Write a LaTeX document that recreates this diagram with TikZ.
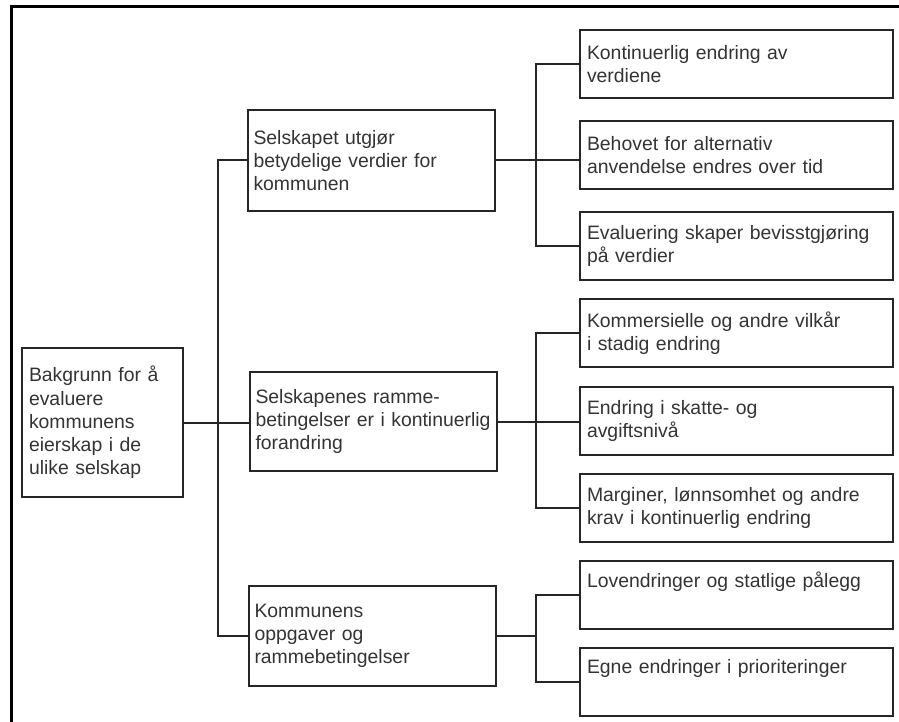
\documentclass[tikz,border=0pt]{standalone}
\usepackage{fontspec}
\setmainfont{Liberation Sans}
\hyphenpenalty=10000
\begin{document}
\begin{tikzpicture}[x=1pt,y=-1pt,
	box/.style={draw=black!85,line width=2.5pt,anchor=north west,outer sep=0pt,align=left,inner xsep=7pt,inner ysep=0pt,font=\fontsize{19.4}{23.3}\selectfont,text=black!80},
	mid/.style={box,inner xsep=5.5pt,text width=236pt,minimum height=100pt},
	wide/.style={box,text width=299pt,minimum height=68pt},
	conn/.style={draw=black!85,line width=2pt}]
	\useasboundingbox (0,0) rectangle (899,722);
	% ramme
	\draw[line width=3pt] (11,722) -- (11,7) -- (899,7);
	\node[box,text width=147pt,minimum height=149pt] (bakgrunn) at (22,348) {Bakgrunn for å\\evaluere\\kommunens\\eierskap i de\\ulike selskap};
	\node[mid,minimum height=101pt] (verdier) at (248,110) {Selskapet utgjør\\betydelige verdier for\\kommunen};
	\node[mid,minimum height=99pt] (rammer) at (250,372) {Selskapenes ramme-\\betingelser er i kontinuerlig\\forandring};
	\node[mid] (oppgaver) at (249,586) {Kommunens\\oppgaver og\\rammebetingelser};
	\node[wide] (endring) at (580,30) {Kontinuerlig endring av\\verdiene};
	\node[wide] (behov) at (580,121) {Behovet for alternativ\\anvendelse endres over tid};
	\node[wide] (bevisst) at (580,212) {Evaluering skaper bevisstgjøring\\på verdier};
	\node[wide] (vilkar) at (580,299) {Kommersielle og andre vilkår\\i stadig endring};
	\node[wide] (skatt) at (580,387) {Endring i skatte- og\\avgiftsnivå};
	\node[wide] (marginer) at (580,474) {Marginer, lønnsomhet og andre\\krav i kontinuerlig endring};
	\node[wide] (lov) at (580,561) {Lovendringer og statlige pålegg\\\strut};
	\node[wide] (egne) at (580,648) {Egne endringer i prioriteringer\\\strut};
	\coordinate (trunk) at (218,0);
	\coordinate (spine) at (536,0);
	% koplinger
	\draw[conn] (bakgrunn.east) -- (bakgrunn.east -| rammer.west);
	\draw[conn] (verdier.west) -- (verdier.west -| trunk) -- (oppgaver.west -| trunk) -- (oppgaver.west);
	\draw[conn] (verdier.east) -- (verdier.east -| behov.west);
	\draw[conn] (endring.west) -- (endring.west -| spine) -- (bevisst.west -| spine) -- (bevisst.west);
	\draw[conn] (rammer.east) -- (rammer.east -| skatt.west);
	\draw[conn] (vilkar.west) -- (vilkar.west -| spine) -- (marginer.west -| spine) -- (marginer.west);
	\draw[conn] (oppgaver.east) -- (oppgaver.east -| spine);
	\draw[conn] (lov.west) -- (lov.west -| spine) -- (egne.west -| spine) -- (egne.west);
\end{tikzpicture}
\end{document}
